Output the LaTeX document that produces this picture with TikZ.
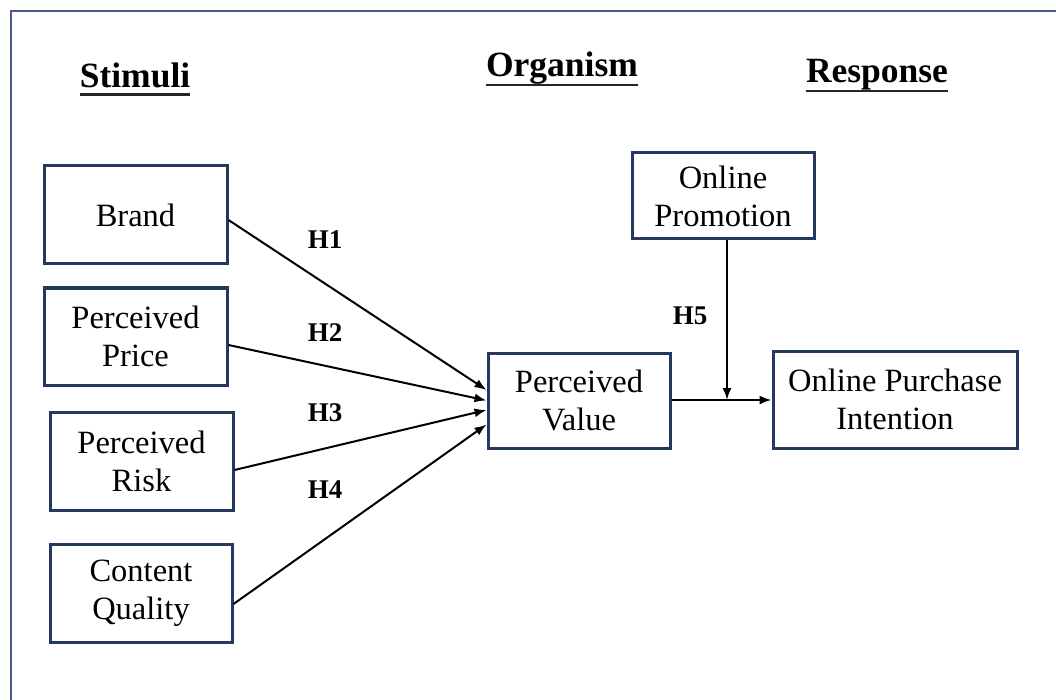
\documentclass[tikz,border=0pt]{standalone}
\usepackage{fontspec}
\setmainfont{Liberation Serif}
\usetikzlibrary{arrows.meta}
\definecolor{boxblue}{RGB}{38,56,96}
\definecolor{frameblue}{RGB}{72,92,130}
\begin{document}
\begin{tikzpicture}[x=1pt,y=-1pt,
  box/.style={draw=boxblue,line width=3pt,fill=white,inner sep=0pt,align=center,
    font=\fontsize{32.5}{38}\selectfont},
  head/.style={inner sep=0pt,anchor=base,font=\fontsize{35.5}{40}\selectfont\bfseries},
  hlab/.style={inner sep=0pt,font=\fontsize{27}{30}\selectfont\bfseries},
  ul/.style={line width=2.8pt,draw=black!85},
  arr/.style={line width=2pt,-{Latex[length=12pt,width=9pt]}}]
\useasboundingbox (0,0) rectangle (1056,700);
\fill[white] (0,0) rectangle (1056,700);
\draw[frameblue,line width=2.8pt] (11,705) -- (11,11) -- (1060,11);
% headings
\node[head] (stim) at (135,88) {Stimuli};
\node[head] (org) at (562,77) {Organism};
\node[head] (resp) at (877,83) {Response};
\draw[ul] ([yshift=-6.5pt]stim.base west) -- ([yshift=-6.5pt]stim.base east);
\draw[ul] ([yshift=-8pt]org.base west) -- ([yshift=-8pt]org.base east);
\draw[ul] ([yshift=-8pt]resp.base west) -- ([yshift=-8pt]resp.base east);
% boxes
\node[box,minimum width=183pt,minimum height=98pt] (brand) at (135.5,215) {Brand};
\node[box,minimum width=183pt,minimum height=97pt] (price) at (135.5,336.5) {Perceived\\Price};
\node[box,minimum width=183pt,minimum height=98pt] (risk) at (141.5,461) {Perceived\\Risk};
\node[box,minimum width=182pt,minimum height=98pt] (cont) at (141,593) {Content\\Quality};
\node[box,minimum width=182pt,minimum height=95pt] (pv) at (579,400.5) {Perceived\\Value};
\node[box,minimum width=182pt,minimum height=86pt] (op) at (723,196) {Online\\Promotion};
\node[box,minimum width=244pt,minimum height=97pt] (opi) at (895,399.5) {Online Purchase\\Intention};
% arrows
\draw[arr] ([yshift=-5pt]brand.east) -- ([yshift=10.5pt]pv.west);
\draw[arr] ([yshift=-8.5pt]price.east) -- ([yshift=0pt]pv.west);
\draw[arr] ([yshift=-9pt]risk.east) -- ([yshift=-9.5pt]pv.west);
\draw[arr] ([yshift=-11pt]cont.east) -- ([yshift=-24pt]pv.west);
\coordinate (j) at (727,400);
\draw[arr] (pv.east |- j) -- (opi.west |- j);
\draw[arr] (op.south -| j) -- (j);
% labels
\node[hlab] (h1) at (325,240) {H1};
\node[hlab] (h2) at (325,333) {H2};
\node[hlab] (h3) at (325,413) {H3};
\node[hlab] (h4) at (325,490) {H4};
\node[hlab] (h5) at (690,316) {H5};
\end{tikzpicture}
\end{document}
